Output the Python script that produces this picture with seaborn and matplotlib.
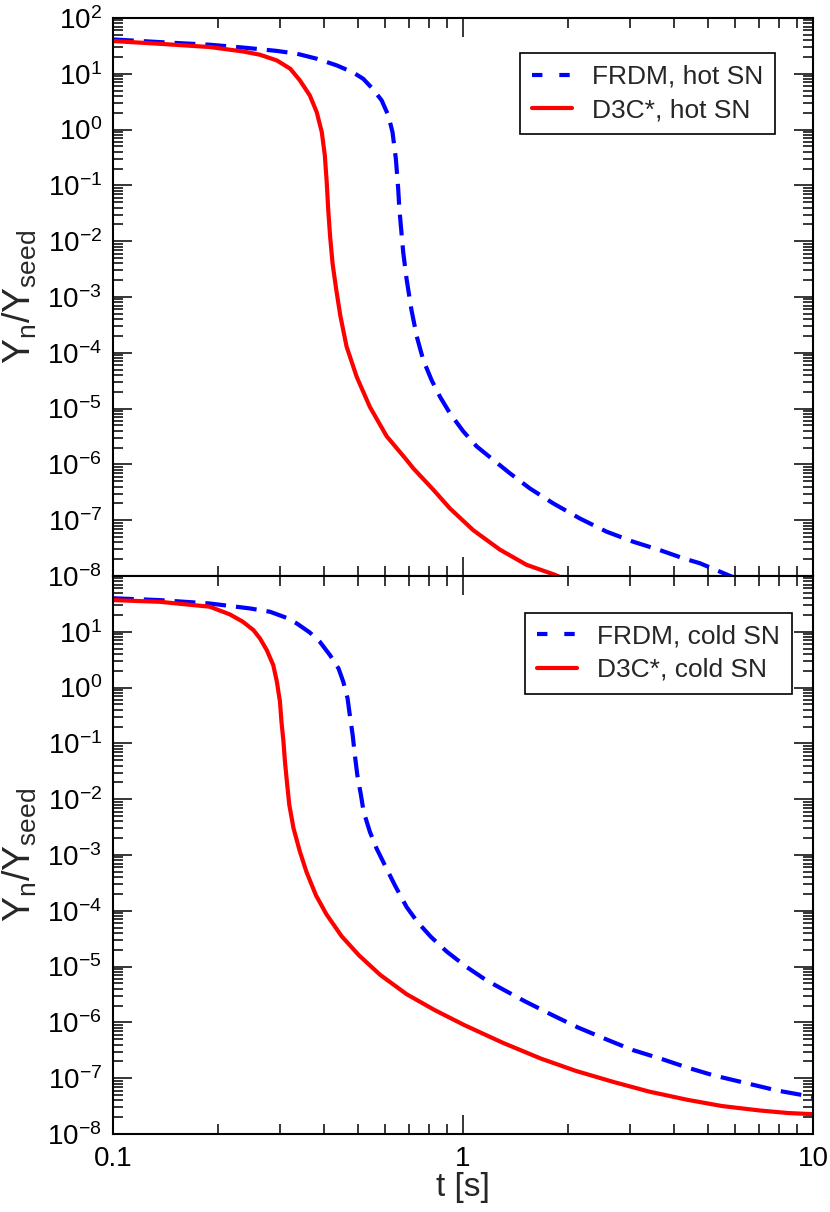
import matplotlib
matplotlib.use('Agg')
import matplotlib.pyplot as plt
import matplotlib.ticker as mticker
from matplotlib.lines import Line2D
import seaborn as sns
import numpy as np

# hot SN, FRDM (blue dashed)
hot_frdm_t = [0.1, 0.136, 0.189, 0.235, 0.293, 0.335, 0.382, 0.436, 0.486, 0.519, 0.554, 0.586,
              0.612, 0.629, 0.643, 0.653, 0.658, 0.675, 0.690, 0.712, 0.738, 0.770, 0.814, 0.860,
              0.918, 1.002, 1.094, 1.221, 1.362, 1.553, 1.81, 2.158, 2.574, 3.066, 3.655, 4.26,
              4.75, 5.8, 7.0]
hot_frdm_y = [41.2, 36.9, 33.1, 29.5, 25.7, 22.9, 18.6, 14.1, 10.5, 8.1, 5.25, 3.31,
              1.78, 0.90, 0.30, 0.087, 0.038, 6.3e-3, 2.1e-3, 6.0e-4, 1.95e-4, 7.4e-5, 3.2e-5, 1.62e-5,
              8.2e-6, 3.9e-6, 2.1e-6, 1.2e-6, 6.9e-7, 3.7e-7, 2.0e-7, 1.07e-7, 6.2e-8, 4.1e-8, 2.9e-8, 2.07e-8,
              1.69e-8, 1.0e-8, 6.3e-9]

# hot SN, D3C* (red solid)
hot_d3c_t = [0.1, 0.136, 0.189, 0.235, 0.263, 0.294, 0.321, 0.342, 0.365, 0.382, 0.395, 0.403,
             0.408, 0.412, 0.417, 0.424, 0.434, 0.446, 0.465, 0.497, 0.542, 0.605, 0.690, 0.721,
             0.823, 0.918, 1.070, 1.276, 1.52, 1.83, 2.1]
hot_d3c_y = [38.5, 34.4, 30.1, 25.1, 21.9, 17.3, 12.3, 7.6, 4.1, 2.06, 0.90, 0.344,
             0.115, 0.038, 0.0127, 4.0e-3, 1.41e-3, 4.7e-4, 1.29e-4, 3.7e-5, 1.07e-5, 3.2e-6, 1.2e-6, 8.5e-7,
             3.5e-7, 1.62e-7, 6.6e-8, 2.95e-8, 1.58e-8, 1.05e-8, 7.1e-9]

# cold SN, FRDM (blue dashed)
cold_frdm_t = [0.1, 0.136, 0.189, 0.246, 0.281, 0.313, 0.335, 0.365, 0.39, 0.417, 0.441, 0.455,
               0.468, 0.475, 0.484, 0.491, 0.499, 0.511, 0.52, 0.542, 0.566, 0.6, 0.64, 0.69,
               0.741, 0.81, 0.898, 1.02, 1.17, 1.49, 1.8, 2.13, 2.6, 3.05, 3.7, 4.37, 5.2, 6.26,
               7.9, 10]
cold_frdm_y = [39.8, 36.9, 32.1, 26.2, 22.8, 17.8, 14.1, 9.7, 6.6, 3.8, 2.2, 1.27,
               0.64, 0.321, 0.141, 0.0618, 0.0271, 0.0119, 6.0e-3, 2.6e-3, 1.32e-3, 6.3e-4, 2.8e-4, 1.17e-4,
               6.3e-5, 3.4e-5, 1.86e-5, 1.0e-5, 5.6e-6, 2.45e-6, 1.35e-6, 8.1e-7, 4.8e-7, 3.2e-7, 2.2e-7,
               1.55e-7, 1.12e-7, 8.5e-8, 6.0e-8, 4.6e-8]

# cold SN, D3C* (red solid)
cold_d3c_t = [0.1, 0.136, 0.189, 0.216, 0.235, 0.252, 0.263, 0.275, 0.287, 0.294, 0.300, 0.303,
              0.307, 0.310, 0.314, 0.319, 0.328, 0.342, 0.357, 0.38, 0.407, 0.45, 0.505, 0.58,
              0.69, 0.83, 1.01, 1.3, 1.67, 2.1, 2.7, 3.4, 4.37, 5.5, 7.06, 8.5, 10]
cold_d3c_y = [36.9, 34.4, 28.1, 20.4, 15.1, 10.7, 7.6, 4.7, 2.53, 1.27, 0.557, 0.244,
              0.107, 0.047, 0.0206, 7.9e-3, 3.0e-3, 1.15e-3, 5.0e-4, 1.9e-4, 8.7e-5, 3.5e-5, 1.58e-5, 7.1e-6,
              3.2e-6, 1.66e-6, 8.9e-7, 4.3e-7, 2.24e-7, 1.35e-7, 8.5e-8, 5.75e-8, 4.1e-8, 3.16e-8, 2.63e-8,
              2.37e-8, 2.26e-8]

labels_hot = ["FRDM, hot SN", "D3C*, hot SN"]
labels_cold = ["FRDM, cold SN", "D3C*, cold SN"]

# labelled decades: top panel 10^2..10^-8, bottom panel 10^1..10^-8
decades_top = [1e-8, 1e-7, 1e-6, 1e-5, 1e-4, 1e-3, 1e-2, 1e-1, 1e0, 1e1, 1e2]
decades_bot = [1e-8, 1e-7, 1e-6, 1e-5, 1e-4, 1e-3, 1e-2, 1e-1, 1e0, 1e1]

sns.set_theme(style='ticks')
plt.rcParams['font.family'] = ['Liberation Sans', 'DejaVu Sans']
plt.rcParams.update({
    'mathtext.fontset': 'custom',
    'mathtext.rm': 'Liberation Sans',
    'mathtext.it': 'Liberation Sans:italic',
    'mathtext.bf': 'Liberation Sans:bold',
    'mathtext.sf': 'Liberation Sans',
})

DASH = (0, (5, 2.4))
LW = 3.0

fig = plt.figure(figsize=(8.3, 12.12), dpi=100)
ax_top = fig.add_axes([0.1361, 0.5248, 0.8434, 0.4604])
ax_bot = fig.add_axes([0.1361, 0.0644, 0.8434, 0.4604])


def ylab(v, pos):
    return r'$\mathregular{10^{%d}}$' % int(round(np.log10(v)))


panels = [
    (ax_top, hot_frdm_t, hot_frdm_y, hot_d3c_t, hot_d3c_y, labels_hot, decades_top, (0.946, 0.937)),
    (ax_bot, cold_frdm_t, cold_frdm_y, cold_d3c_t, cold_d3c_y, labels_cold, decades_bot, (0.97, 0.934)),
]

for ax, ft, fy, dt, dy, labs, decades, anchor in panels:
    ax.set_xscale('log')
    ax.set_yscale('log')

    sns.lineplot(x=ft, y=fy, ax=ax, color='#0000ff', lw=LW, linestyle=DASH,
                 sort=False, estimator=None)
    sns.lineplot(x=dt, y=dy, ax=ax, color='#ff0000', lw=LW,
                 sort=False, estimator=None)

    ax.set_xlim(0.1, 10)
    ax.set_ylim(1e-8, 1e2)

    ax.xaxis.set_major_locator(mticker.FixedLocator([0.1, 1, 10]))
    ax.xaxis.set_minor_locator(mticker.LogLocator(base=10, subs=np.arange(2, 10), numticks=50))
    ax.yaxis.set_major_locator(mticker.FixedLocator(decades))
    ax.yaxis.set_minor_locator(mticker.LogLocator(base=10, subs=np.arange(2, 10), numticks=100))
    ax.yaxis.set_major_formatter(mticker.FuncFormatter(ylab))
    ax.yaxis.set_minor_formatter(mticker.NullFormatter())
    ax.xaxis.set_minor_formatter(mticker.NullFormatter())

    ax.tick_params(which='both', direction='in', top=True, right=True,
                   width=1.1, colors='black', labelsize=20)
    ax.tick_params(which='major', length=13.7)
    ax.tick_params(axis='x', which='major', pad=9)
    ax.tick_params(axis='y', which='major', pad=8)
    ax.tick_params(which='minor', length=7.2)
    for sp in ax.spines.values():
        sp.set_linewidth(1.5)
        sp.set_color('black')

    ax.set_ylabel(r'$\mathregular{Y_n/Y_{seed}}$', fontsize=27)
    ax.yaxis.set_label_coords(-0.105, 0.5)

    handles = [Line2D([], [], color='#0000ff', lw=LW, linestyle=(0, (2.5, 4.05))),
               Line2D([], [], color='#ff0000', lw=LW)]
    leg = ax.legend(handles, labs, loc='upper right', bbox_to_anchor=anchor,
                    borderaxespad=0, fontsize=19, handlelength=1.52, handletextpad=0.76,
                    borderpad=0.45, labelspacing=0.35, fancybox=False, framealpha=1,
                    edgecolor='black')
    leg.get_frame().set_linewidth(1.2)

ax_top.tick_params(labelbottom=False)
ax_bot.xaxis.set_major_formatter(mticker.FixedFormatter(['0.1', '1', '10']))
ax_bot.set_xlabel('t [s]', fontsize=24, labelpad=0)

fig.savefig('out.png', dpi=100)
